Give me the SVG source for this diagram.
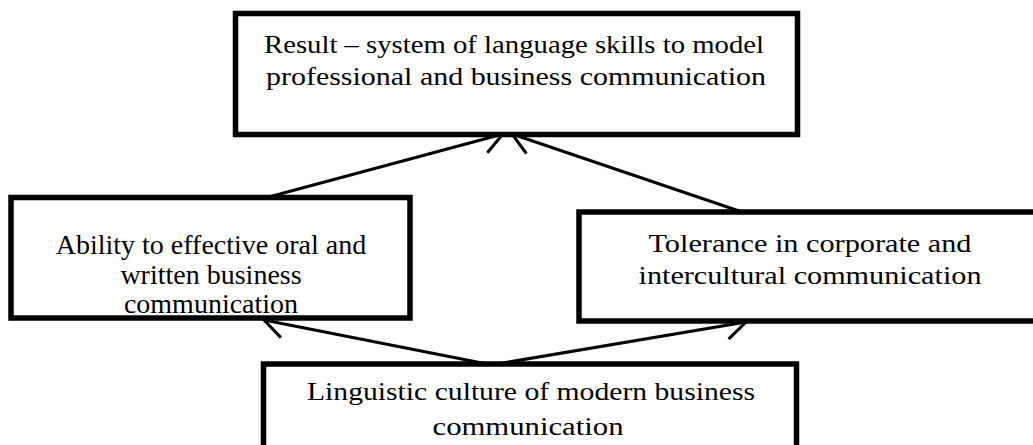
<svg xmlns="http://www.w3.org/2000/svg" width="1033" height="445" viewBox="0 0 1033 445">
<style>
.box{fill:#fff;stroke:#000;stroke-width:5.5}
.con{fill:none;stroke:#000;stroke-width:3}
.t{font-family:"Liberation Serif","Times New Roman",serif;font-size:26px;fill:#000;text-anchor:middle}
.tt{font-family:"Liberation Serif","Times New Roman",serif;font-size:28px;fill:#000;text-anchor:middle}
</style>
<defs>
<marker id="ah" markerUnits="userSpaceOnUse" markerWidth="40" markerHeight="40" refX="0" refY="0" viewBox="-30 -20 40 40" orient="auto" overflow="visible">
<path d="M-20,-14 L0,0 L-20,14" fill="none" stroke="#000" stroke-width="3"/>
</marker>
</defs>
<rect width="1033" height="445" fill="#fff"/>
<g id="connectors">
<line class="con" x1="265" y1="198" x2="503" y2="134" marker-end="url(#ah)"/>
<line class="con" x1="742" y1="212" x2="512" y2="134" marker-end="url(#ah)"/>
<line class="con" x1="487" y1="364" x2="264" y2="320" marker-end="url(#ah)"/>
<line class="con" x1="497" y1="364" x2="746" y2="322" marker-end="url(#ah)"/>
</g>
<g id="node-result">
<rect class="box" x="235.5" y="13.5" width="562" height="121"/>
<text class="t" x="514" y="53" textLength="500" lengthAdjust="spacingAndGlyphs">Result – system of language skills to model</text>
<text class="t" x="516" y="85" textLength="500" lengthAdjust="spacingAndGlyphs">professional and business communication</text>
</g>
<g id="node-ability">
<rect class="box" x="11" y="197.5" width="399" height="120.5"/>
<text class="tt" x="211" y="254">Ability to effective oral and</text>
<text class="tt" x="211" y="284">written business</text>
<text class="tt" x="211" y="313">communication</text>
</g>
<g id="node-tolerance">
<rect class="box" x="579" y="212" width="470" height="109"/>
<text class="t" x="810" y="252" textLength="323" lengthAdjust="spacingAndGlyphs">Tolerance in corporate and</text>
<text class="t" x="810" y="284" textLength="343" lengthAdjust="spacingAndGlyphs">intercultural communication</text>
</g>
<g id="node-linguistic">
<rect class="box" x="263.5" y="364" width="533" height="100"/>
<text class="t" x="531" y="400" textLength="448" lengthAdjust="spacingAndGlyphs">Linguistic culture of modern business</text>
<text class="t" x="528" y="435" textLength="191" lengthAdjust="spacingAndGlyphs">communication</text>
</g>
</svg>
